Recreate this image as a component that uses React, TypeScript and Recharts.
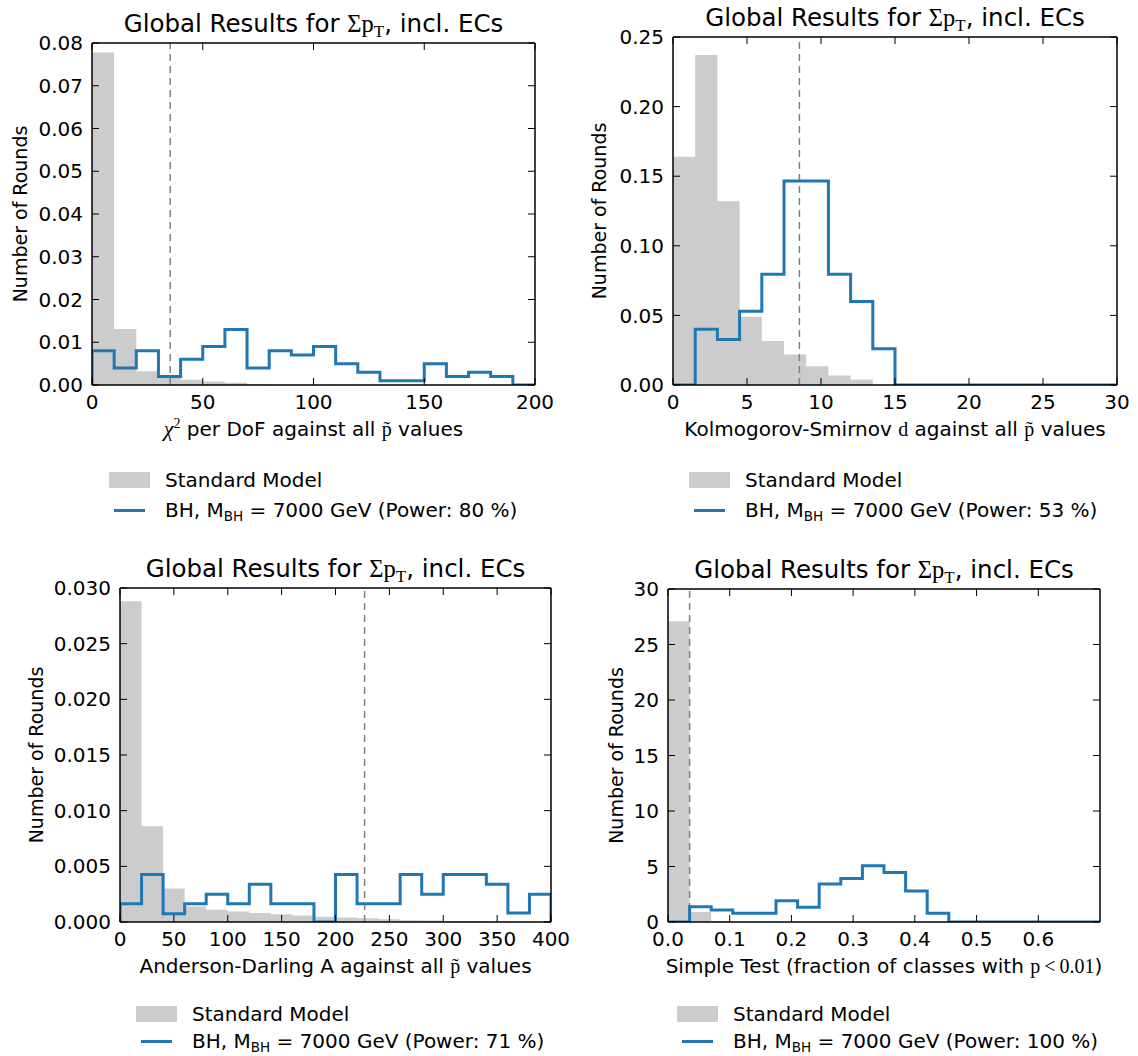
import React from 'react';
import { ComposedChart, Area, Line, XAxis, YAxis, ReferenceLine, Legend, Label } from 'recharts';

const SANS = '"DejaVu Sans", sans-serif';
const SERIF = '"Liberation Serif", "DejaVu Serif", serif';
const GRAY = '#cccccc';
const BLUE = '#1f77b4';

// chi2 per DoF
const chiEdges = [0, 10, 20, 30, 40, 50, 60, 70, 80, 90, 100, 110, 120, 130, 140, 150, 160, 170, 180, 190, 200];
const chiSM = [0.0778, 0.0131, 0.0032, 0.0018, 0.0012, 0.0008, 0.0005, 0.0002, 0, 0, 0, 0, 0, 0, 0, 0, 0, 0, 0, 0];
const chiBH = [0.008, 0.004, 0.008, 0.002, 0.006, 0.009, 0.013, 0.004, 0.008, 0.007, 0.009, 0.005, 0.003, 0.001, 0.001, 0.005, 0.002, 0.003, 0.002, 0];
const chiCut = 35.3;

// Kolmogorov-Smirnov
const ksEdges = [0, 1.5, 3, 4.5, 6, 7.5, 9, 10.5, 12, 13.5, 15, 16.5, 18, 19.5, 21, 22.5, 24, 25.5, 27, 28.5, 30];
const ksSM = [0.164, 0.237, 0.132, 0.049, 0.0316, 0.022, 0.0135, 0.0068, 0.0039, 0, 0, 0, 0, 0, 0, 0, 0, 0, 0, 0];
const ksBH = [0, 0.04, 0.0326, 0.053, 0.0796, 0.1465, 0.1465, 0.0796, 0.06, 0.026, 0, 0, 0, 0, 0, 0, 0, 0, 0, 0];
const ksCut = 8.54;

// Anderson-Darling
const adEdges = [0, 20, 40, 60, 80, 100, 120, 140, 160, 180, 200, 220, 240, 260, 280, 300, 320, 340, 360, 380, 400];
const adSM = [0.0288, 0.0086, 0.003, 0.0014, 0.0011, 0.00095, 0.0008, 0.0007, 0.00058, 0.00048, 0.0004, 0.00033, 0.00025, 0.00016, 0.00014, 0.0001, 0.0001, 0.00006, 0.00004, 0.00003];
const adBH = [0.00165, 0.00426, 0.00075, 0.00165, 0.0025, 0.00165, 0.0034, 0.00165, 0.00165, 0, 0.00426, 0.00165, 0.00165, 0.00426, 0.0025, 0.00426, 0.00426, 0.0034, 0.0008, 0.0025];
const adCut = 227;

// simple test
const stEdges = [0, 0.035, 0.07, 0.105, 0.14, 0.175, 0.21, 0.245, 0.28, 0.315, 0.35, 0.385, 0.42, 0.455, 0.49, 0.525, 0.56, 0.595, 0.63, 0.665, 0.7];
const stSM = [27.1, 0.9, 0.1, 0, 0, 0, 0, 0, 0, 0, 0, 0, 0, 0, 0, 0, 0, 0, 0, 0];
const stBH = [0, 1.38, 1.08, 0.78, 0.78, 1.92, 1.32, 3.42, 3.93, 5.07, 4.47, 2.79, 0.78, 0, 0, 0, 0, 0, 0, 0];
const stCut = 0.035;

// step points: value of each bin at its left edge, last value repeated at the last edge
function hist(edges: number[], vals: number[]) {
  const pts = vals.map((v, i) => ({ x: edges[i], v }));
  pts.push({ x: edges[edges.length - 1], v: vals[vals.length - 1] });
  return pts;
}
function outline(edges: number[], vals: number[]) {
  return [{ x: edges[0], v: 0 }, ...hist(edges, vals), { x: edges[edges.length - 1], v: 0 }];
}

type Spec = {
  box: { x: number; y: number; w: number; h: number };
  plot: { left: number; top: number; right: number; bottom: number };
  edges: number[];
  sm: number[];
  bh: number[];
  cut: number;
  xDomain: [number, number];
  yDomain: [number, number];
  xTicks: number[];
  yTicks: number[];
  xFmt: (v: number) => string;
  yFmt: (v: number) => string;
  xLabel: React.ReactNode;
  yLabelX: number;
  legendX: number;
  legendY: number; // centre of first legend row
  rowGap: number;
  power: string;
};

const P = { fontFamily: SERIF };

const specs: Spec[] = [
  {
    box: { x: 0, y: 0, w: 575, h: 530 },
    plot: { left: 92, top: 43, right: 535, bottom: 385 },
    edges: chiEdges, sm: chiSM, bh: chiBH, cut: chiCut,
    xDomain: [0, 200], yDomain: [0, 0.08],
    xTicks: [0, 50, 100, 150, 200],
    yTicks: [0, 0.01, 0.02, 0.03, 0.04, 0.05, 0.06, 0.07, 0.08],
    xFmt: v => String(v), yFmt: v => v.toFixed(2),
    xLabel: (
      <>
        <tspan {...P} fontStyle="italic" fontSize={22}>χ</tspan>
        <tspan {...P} fontSize={14} dy={-8}>2</tspan>
        <tspan dy={8}> per DoF against all </tspan>
        <tspan {...P}>p&#x303;</tspan>
        <tspan> values</tspan>
      </>
    ),
    yLabelX: 27, legendX: 109, legendY: 480, rowGap: 30, power: '80',
  },
  {
    box: { x: 570, y: 0, w: 568, h: 530 },
    plot: { left: 103, top: 37, right: 547, bottom: 385 },
    edges: ksEdges, sm: ksSM, bh: ksBH, cut: ksCut,
    xDomain: [0, 30], yDomain: [0, 0.25],
    xTicks: [0, 5, 10, 15, 20, 25, 30],
    yTicks: [0, 0.05, 0.1, 0.15, 0.2, 0.25],
    xFmt: v => String(v), yFmt: v => v.toFixed(2),
    xLabel: (
      <>
        <tspan>Kolmogorov-Smirnov </tspan>
        <tspan {...P}>d</tspan>
        <tspan> against all </tspan>
        <tspan {...P}>p&#x303;</tspan>
        <tspan> values</tspan>
      </>
    ),
    yLabelX: 36, legendX: 119, legendY: 480, rowGap: 30, power: '53',
  },
  {
    box: { x: 0, y: 535, w: 575, h: 521 },
    plot: { left: 120, top: 53, right: 551, bottom: 387 },
    edges: adEdges, sm: adSM, bh: adBH, cut: adCut,
    xDomain: [0, 400], yDomain: [0, 0.03],
    xTicks: [0, 50, 100, 150, 200, 250, 300, 350, 400],
    yTicks: [0, 0.005, 0.01, 0.015, 0.02, 0.025, 0.03],
    xFmt: v => String(v), yFmt: v => v.toFixed(3),
    xLabel: (
      <>
        <tspan>Anderson-Darling A against all </tspan>
        <tspan {...P}>p&#x303;</tspan>
        <tspan> values</tspan>
      </>
    ),
    yLabelX: 43, legendX: 136, legendY: 479, rowGap: 27, power: '71',
  },
  {
    box: { x: 570, y: 535, w: 568, h: 521 },
    plot: { left: 98, top: 54, right: 530, bottom: 387 },
    edges: stEdges, sm: stSM, bh: stBH, cut: stCut,
    xDomain: [0, 0.7], yDomain: [0, 30],
    xTicks: [0, 0.1, 0.2, 0.3, 0.4, 0.5, 0.6],
    yTicks: [0, 5, 10, 15, 20, 25, 30],
    xFmt: v => v.toFixed(1), yFmt: v => String(v),
    xLabel: (
      <>
        <tspan>Simple Test (fraction of classes with </tspan>
        <tspan {...P}>p&#x2009;&lt;&#x2009;0.01</tspan>
        <tspan>)</tspan>
      </>
    ),
    yLabelX: 53, legendX: 107, legendY: 479, rowGap: 27, power: '100',
  },
];

const ROW_H = 22;

function LegendBody({ s }: { s: Spec }) {
  const row: React.CSSProperties = { display: 'flex', alignItems: 'center', height: ROW_H };
  return (
    <div style={{ fontFamily: SANS, fontSize: 20, color: '#000', lineHeight: 1, whiteSpace: 'nowrap' }}>
      <div style={row}>
        <span style={{ display: 'inline-block', width: 41, height: 16, background: GRAY }} />
        <span style={{ marginLeft: 15 }}>Standard Model</span>
      </div>
      <div style={{ ...row, marginTop: s.rowGap - ROW_H }}>
        <span style={{ display: 'inline-flex', width: 41, justifyContent: 'center' }}>
          <span style={{ display: 'inline-block', width: 31, height: 3, background: BLUE }} />
        </span>
        <span style={{ marginLeft: 15 }}>
          BH, M<span style={{ fontSize: 13.5, position: 'relative', top: 4 }}>BH</span> = 7000 GeV (Power: {s.power} %)
        </span>
      </div>
    </div>
  );
}

const noTick = () => <g />;

function Panel({ s }: { s: Spec }) {
  const { box, plot } = s;
  const cx = (plot.left + plot.right) / 2;
  const cy = (plot.top + plot.bottom) / 2;
  const XH = 30;
  // top and right axes take 1px so that Recharts still draws them
  const margin = { top: plot.top - 1, right: box.w - plot.right - 1, bottom: box.h - plot.bottom - XH, left: 0 };
  const tick = { fill: '#000', fontSize: 20, fontFamily: SANS };
  const axisLine = { stroke: '#000', strokeWidth: 1.5 };
  const tickLine = { stroke: '#000', strokeWidth: 1 };
  const common = { allowDataOverflow: true, tickSize: -7, axisLine, tickLine };

  return (
    <div style={{ position: 'absolute', left: box.x, top: box.y, width: box.w, height: box.h }}>
      <ComposedChart width={box.w} height={box.h} margin={margin}>
        <XAxis xAxisId="t" orientation="top" dataKey="x" type="number" domain={s.xDomain} ticks={s.xTicks}
          interval={0} height={1} tick={noTick} {...common}>
          <Label content={() => (
            <text x={cx} y={plot.top - 11} textAnchor="middle" fontFamily={SANS} fontSize={24.5} fill="#000">
              Global Results for <tspan fontFamily={SERIF}>Σp</tspan>
              <tspan fontFamily={SERIF} fontSize={17} dy={5}>T</tspan>
              <tspan dy={-5}>, incl. ECs</tspan>
            </text>
          )} />
        </XAxis>
        <XAxis xAxisId="b" dataKey="x" type="number" domain={s.xDomain} ticks={s.xTicks} interval={0}
          height={XH} tickMargin={17} tick={tick} tickFormatter={s.xFmt} {...common}>
          <Label content={() => (
            <text x={cx} y={plot.bottom + 51} textAnchor="middle" fontFamily={SANS} fontSize={20} fill="#000">
              {s.xLabel}
            </text>
          )} />
        </XAxis>
        <YAxis yAxisId="l" type="number" domain={s.yDomain} ticks={s.yTicks} interval={0} width={plot.left}
          tickMargin={16} tick={tick} tickFormatter={s.yFmt} {...common}>
          <Label content={() => (
            <text transform={`translate(${s.yLabelX},${cy}) rotate(-90)`} textAnchor="middle"
              fontFamily={SANS} fontSize={19} fill="#000">
              Number of Rounds
            </text>
          )} />
        </YAxis>
        <YAxis yAxisId="r" orientation="right" type="number" domain={s.yDomain} ticks={s.yTicks} interval={0}
          width={1} tick={noTick} {...common} />

        <Area xAxisId="t" yAxisId="r" data={hist(s.edges, s.sm)} dataKey="v" type="stepAfter"
          fill={GRAY} fillOpacity={1} stroke="none" isAnimationActive={false} />
        <ReferenceLine xAxisId="b" yAxisId="l" x={s.cut} stroke="#808080" strokeWidth={1.5} strokeDasharray="7 5" />
        <Line xAxisId="b" yAxisId="l" data={outline(s.edges, s.bh)} dataKey="v" type="stepAfter"
          stroke={BLUE} strokeWidth={3} dot={false} activeDot={false} strokeLinejoin="miter"
          isAnimationActive={false} />

        <Legend verticalAlign="middle" align="center" layout="horizontal"
          wrapperStyle={{ left: s.legendX, top: s.legendY - ROW_H / 2, width: 440, height: s.rowGap + ROW_H }}
          content={() => <LegendBody s={s} />} />
      </ComposedChart>
    </div>
  );
}

export default function App() {
  return (
    <div style={{ position: 'absolute', left: 0, top: 0, width: 1138, height: 1056, background: '#fff' }}>
      {specs.map((s, i) => <Panel key={i} s={s} />)}
    </div>
  );
}
